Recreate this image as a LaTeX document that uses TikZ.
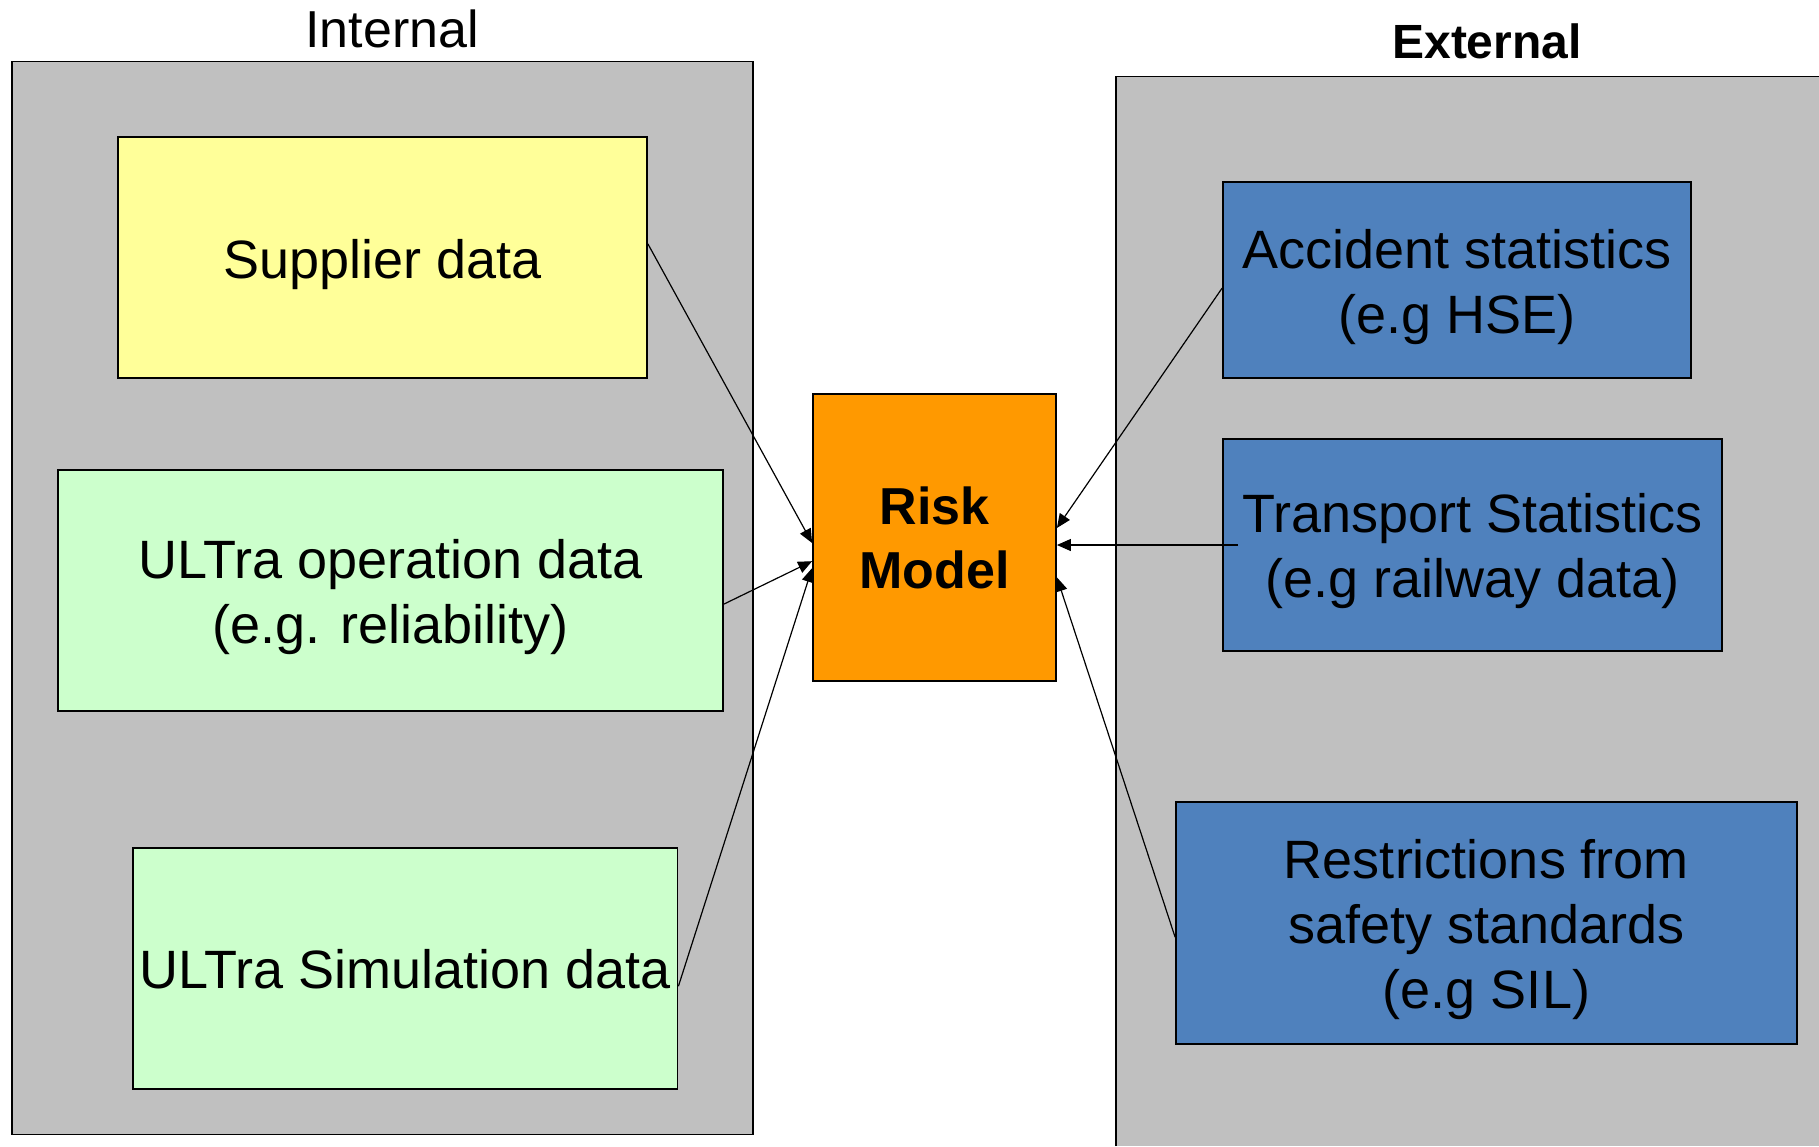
\documentclass[tikz,border=0pt]{standalone}
\usepackage{fontspec}
\setmainfont{Liberation Sans}
\usetikzlibrary{arrows.meta,calc}
\definecolor{grayc}{HTML}{C0C0C0}
\definecolor{yel}{HTML}{FFFF99}
\definecolor{grn}{HTML}{CCFFCC}
\definecolor{org}{HTML}{FF9900}
\definecolor{blu}{HTML}{4F81BD}
\begin{document}
\begin{tikzpicture}[x=0.5pt,y=-0.5pt,
  box/.style={draw=black,line width=0.9pt,inner sep=0pt},
  txt/.style 2 args={label={[inner sep=0pt,align=center,font=\fontsize{27}{32.5}\selectfont,yshift=#1]center:{#2}}},
  conn/.style={line width=0.6pt,-{Triangle[length=7pt,width=6pt]}}]
\useasboundingbox (0,0) rectangle (1819,1146);
% group panels
\path[fill=grayc,draw=black,line width=0.9pt] (11.6,61.5) rectangle (753,1134.5);
\path[fill=grayc] (1116,76.5) rectangle (1819,1146);
\draw[line width=0.9pt] (1116,1146) -- (1116,76.5) -- (1819,76.5);
\node[font=\fontsize{26}{32}\selectfont] (tint) at (392,29) {Internal};
\node[font=\fontsize{24}{30}\selectfont\bfseries] (text) at (1487,41) {External};
% nodes
\node[box,fill=yel,minimum width=264.5pt,minimum height=120.5pt,
  txt={-3.5pt}{Supplier data}] (sup) at (382.5,257.5) {};
\node[box,fill=grn,minimum width=332.5pt,minimum height=120.5pt,
  txt={-3.5pt}{ULTra operation data\\(e.g. reliability)}] (op) at (390.5,590.5) {};
\node[box,fill=grn,minimum width=272.25pt,minimum height=120.5pt,
  txt={-0.5pt}{ULTra Simulation data}] (sim) at (405.25,968.5) {};
\node[box,fill=org,minimum width=121.5pt,minimum height=143.5pt,align=center,
  font=\fontsize{26}{32}\selectfont\bfseries] (risk) at (934.5,537.5) {Risk\\Model};
\node[box,fill=blu,minimum width=234pt,minimum height=98pt,
  txt={-3.5pt}{Accident statistics\\(e.g HSE)}] (acc) at (1457,280) {};
\node[box,fill=blu,minimum width=249.5pt,minimum height=106pt,
  txt={-3pt}{Transport Statistics\\(e.g railway data)}] (tra) at (1472.5,545) {};
\node[box,fill=blu,minimum width=310.5pt,minimum height=121pt,
  txt={-3.5pt}{Restrictions from\\safety standards\\(e.g SIL)}] (res) at (1486.5,923) {};
% connectors
\draw[conn] ($(sup.north east)!0.444!(sup.south east)$) -- ($(risk.north west)!0.519!(risk.south west)$);
\draw[conn] ($(op.north east)!0.556!(op.south east)$) -- ($(risk.north west)!0.582!(risk.south west)$);
\draw[conn] ($(sim.north east)!0.573!(sim.south east)$) -- ($(risk.north west)!0.606!(risk.south west)$);
\draw[conn] ($(acc.north west)!0.541!(acc.south west)$) -- ($(risk.north east)!0.467!(risk.south east)$);
\draw[conn] ($(tra.west)+(16,0)$) -- (risk.east |- tra.west);
\draw[conn] ($(res.north west)!0.558!(res.south west)$) -- ($(risk.north east)!0.638!(risk.south east)$);
\end{tikzpicture}
\end{document}
